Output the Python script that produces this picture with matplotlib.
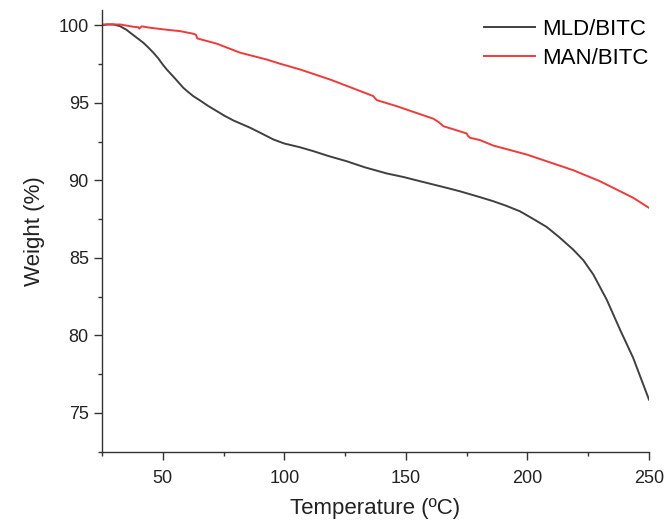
import matplotlib.pyplot as plt
from matplotlib.ticker import MultipleLocator

plt.rcParams['font.family'] = ['Liberation Sans', 'DejaVu Sans']

# MLD/BITC
mld_t = [25.0, 27.0, 29.7, 32.4, 35.0, 37.9, 40.0, 42.0, 44.0, 46.1, 48.0, 50.0, 51.6,
         55.0, 58.4, 60.0, 62.5, 65.3, 68.5, 72.2, 75.5, 79.0, 85.9, 90.0, 95.5, 100.0,
         106.4, 111.9, 118.0, 125.6, 133.0, 142.1, 149.0, 155.8, 166.8, 172.2, 180.5,
         185.9, 191.0, 196.9, 202.0, 207.9, 213.0, 218.8, 223.0, 227.1, 232.6, 238.1,
         243.5, 250.0]
mld_w = [100.0, 100.06, 100.06, 99.95, 99.72, 99.37, 99.12, 98.88, 98.58, 98.24, 97.9,
         97.47, 97.16, 96.58, 95.98, 95.76, 95.44, 95.16, 94.82, 94.47, 94.16, 93.87,
         93.40, 93.08, 92.64, 92.38, 92.14, 91.89, 91.58, 91.24, 90.85, 90.45, 90.22,
         89.95, 89.52, 89.30, 88.92, 88.66, 88.38, 88.01, 87.55, 87.0, 86.35, 85.54,
         84.85, 83.93, 82.31, 80.37, 78.55, 75.86]

# MAN/BITC
man_t = [25.0, 25.5, 32.4, 37.9, 40.0, 40.3, 41.3, 44.7, 51.6, 57.1, 62.6, 63.6, 64.2,
         72.2, 81.8, 92.7, 98.2, 106.4, 118.8, 136.6, 137.2, 138.0, 146.2, 161.3,
         163.6, 165.4, 175.0, 175.5, 176.4, 180.5, 185.9, 199.7, 218.8, 229.8, 243.5,
         250.0]
man_w = [100.0, 100.06, 100.06, 99.91, 99.88, 99.79, 99.94, 99.85, 99.72, 99.63, 99.46,
         99.40, 99.16, 98.82, 98.24, 97.80, 97.53, 97.16, 96.51, 95.44, 95.32, 95.18,
         94.79, 93.98, 93.75, 93.50, 93.03, 92.88, 92.75, 92.60, 92.25, 91.67, 90.66,
         89.95, 88.88, 88.23]

fig = plt.figure(figsize=(6.67, 5.21), dpi=100)
ax = fig.add_axes([0.153, 0.133, 0.820, 0.848])

ax.plot(mld_t, mld_w, color='#404040', lw=1.4, label='MLD/BITC')
ax.plot(man_t, man_w, color='#f03a3a', lw=1.4, label='MAN/BITC')

ax.set_xlim(25, 250)
ax.set_ylim(72.5, 101)
ax.xaxis.set_major_locator(MultipleLocator(50))
ax.xaxis.set_minor_locator(MultipleLocator(25))
ax.yaxis.set_major_locator(MultipleLocator(5))
ax.yaxis.set_minor_locator(MultipleLocator(2.5))

for s in ['top', 'right']:
    ax.spines[s].set_visible(False)
for s in ['left', 'bottom']:
    ax.spines[s].set_color('#333333')
    ax.spines[s].set_linewidth(1.0)

ax.tick_params(which='major', direction='out', length=6, width=1.0, color='#333333',
               labelsize=13, labelcolor='#222222')
ax.tick_params(which='minor', direction='out', length=3, width=1.0, color='#333333')
ax.tick_params(axis='x', which='major', pad=7)

ax.set_xlabel('Temperature (ºC)', fontsize=16, color='#222222', labelpad=8)
ax.set_ylabel('Weight (%)', fontsize=16, color='#222222', labelpad=10)

ax.legend(loc='upper right', bbox_to_anchor=(1.035, 1.025), frameon=False, fontsize=16,
          handlelength=2.3, handletextpad=0.3, labelspacing=0.35)

fig.savefig('out.png', dpi=100)
